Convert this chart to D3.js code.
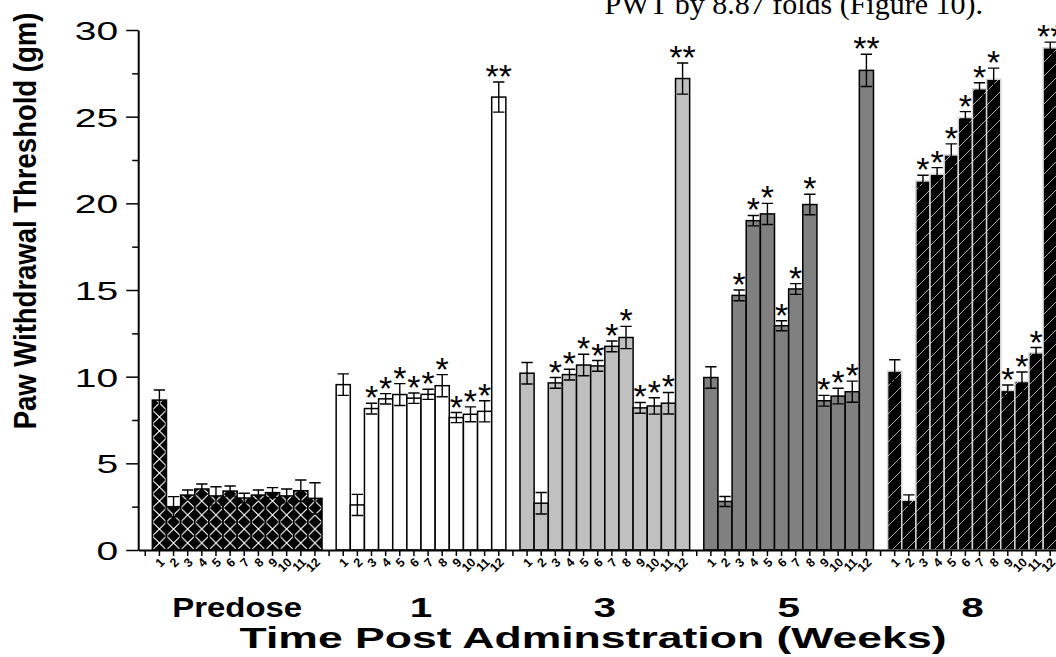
<!DOCTYPE html>
<html>
<head>
<meta charset="utf-8">
<script src="https://cdn.jsdelivr.net/npm/d3@7"></script>
<style>
  body { margin: 0; background: #fff; }
  text { font-family: "Liberation Sans", Arial, sans-serif; fill: #000; }
</style>
</head>
<body>
<svg id="chart" width="1056" height="657"></svg>
<script>
// groups along the x axis, 12 bars in each
var groups = ["Predose", "1", "3", "5", "8"];
var subjects = ["1", "2", "3", "4", "5", "6", "7", "8", "9", "10", "11", "12"];

var predoseMean = [8.65, 2.50, 3.17, 3.52, 3.12, 3.40, 3.00, 3.17, 3.31, 3.12, 3.42, 2.98];
var predoseSem  = [0.58, 0.58, 0.29, 0.29, 0.53, 0.29, 0.27, 0.29, 0.29, 0.40, 0.62, 0.90];
var week1Mean = [9.54, 2.60, 8.16, 8.72, 8.97, 8.76, 8.98, 9.48, 7.64, 7.83, 8.00, 26.13];
var week1Sem  = [0.62, 0.61, 0.31, 0.30, 0.63, 0.30, 0.29, 0.64, 0.29, 0.43, 0.61, 0.87];
var week3Mean = [10.20, 2.70, 9.64, 10.12, 10.67, 10.62, 11.75, 12.26, 8.20, 8.31, 8.47, 27.20];
var week3Sem  = [0.62, 0.62, 0.31, 0.31, 0.62, 0.31, 0.31, 0.64, 0.31, 0.47, 0.62, 0.90];
var week5Mean = [9.95, 2.80, 14.69, 19.00, 19.39, 12.94, 15.06, 19.93, 8.61, 8.88, 9.13, 27.67];
var week5Sem  = [0.62, 0.29, 0.31, 0.30, 0.61, 0.29, 0.31, 0.59, 0.31, 0.45, 0.61, 0.93];
var week8Mean = [10.32, 2.87, 21.29, 21.68, 22.79, 24.95, 26.61, 27.16, 9.21, 9.72, 11.37, 28.97];
var week8Sem  = [0.66, 0.31, 0.33, 0.38, 0.64, 0.34, 0.35, 0.64, 0.31, 0.55, 0.31, 0.33];

var noMarks   = ["", "", "", "", "", "", "", "", "", "", "", ""];
var weekMarks = ["", "", "*", "*", "*", "*", "*", "*", "*", "*", "*", "**"];

var yMajorTicks = [0, 5, 10, 15, 20, 25, 30];
var yMinorTicks = [2.5, 7.5, 12.5, 17.5, 22.5, 27.5];

var means = [predoseMean, week1Mean, week3Mean, week5Mean, week8Mean];
var sems = [predoseSem, week1Sem, week3Sem, week5Sem, week8Sem];
var marks = [noMarks, weekMarks, weekMarks, weekMarks, weekMarks];

var svg = d3.select("#chart");

// one empty slot before every group
var perGroup = subjects.length + 1;
var slots = d3.range(groups.length * perGroup);

var x = d3.scaleBand()
  .domain(slots)
  .range([138.2, 138.2 + slots.length * 14.14]);

var y = d3.scaleLinear()
  .domain([0, 30])
  .range([550, 30]);

var bw = x.bandwidth();

var rows = [];
groups.forEach(function(g, gi) {
  subjects.forEach(function(s, si) {
    rows.push({
      gi: gi,
      subject: s,
      slot: gi * perGroup + 1 + si,
      mean: means[gi][si],
      sem: sems[gi][si],
      mark: marks[gi][si]
    });
  });
});

// hatch patterns
var defs = svg.append('defs');

var cross = defs.append('pattern')
  .attr('id', 'crossHatch')
  .attr('patternUnits', 'userSpaceOnUse')
  .attr('x', x.range()[0])
  .attr('y', y(0))
  .attr('width', bw)
  .attr('height', 14);
cross.append('rect').attr('width', bw).attr('height', 14).attr('fill', '#000');
cross.append('path')
  .attr('d', 'M0,0L' + bw + ',14M' + bw + ',0L0,14')
  .attr('stroke', '#fff')
  .attr('stroke-width', 1.1)
  .attr('fill', 'none');

var diag = defs.append('pattern')
  .attr('id', 'diagHatch')
  .attr('patternUnits', 'userSpaceOnUse')
  .attr('width', 14)
  .attr('height', 14);
diag.append('rect').attr('width', 14).attr('height', 14).attr('fill', '#000');
diag.append('path')
  .attr('d', 'M0,14L14,0M-3,3L3,-3M11,17L17,11')
  .attr('stroke', '#d8d8d8')
  .attr('stroke-width', 0.8)
  .attr('fill', 'none');

var groupFill = ['url(#crossHatch)', '#ffffff', '#c0c0c0', '#808080', 'url(#diagHatch)'];
var groupStroke = ['#000', '#000', '#000', '#000', '#d4d4d4'];

// bars
svg.append('g')
  .selectAll('rect')
  .data(rows)
  .join('rect')
  .attr('x', function(d) { return x(d.slot); })
  .attr('y', function(d) { return y(d.mean); })
  .attr('width', bw)
  .attr('height', function(d) { return y(0) - y(d.mean); })
  .attr('fill', function(d) { return groupFill[d.gi]; })
  .attr('stroke', function(d) { return groupStroke[d.gi]; })
  .attr('stroke-width', 1.5);

// error bars
var capW = bw * 0.4;
svg.append('g')
  .attr('stroke', '#000')
  .attr('stroke-width', 1.4)
  .attr('fill', 'none')
  .selectAll('path')
  .data(rows)
  .join('path')
  .attr('d', function(d) {
    var cx = x(d.slot) + bw / 2;
    var hi = y(d.mean + d.sem), lo = y(d.mean - d.sem);
    return 'M' + cx + ',' + lo + 'V' + hi +
      'M' + (cx - capW) + ',' + hi + 'H' + (cx + capW) +
      'M' + (cx - capW) + ',' + lo + 'H' + (cx + capW);
  });

// significance stars
svg.append('g')
  .selectAll('text')
  .data(rows.filter(function(d) { return d.mark; }))
  .join('text')
  .attr('x', function(d) { return x(d.slot) + bw / 2; })
  .attr('y', function(d) { return y(d.mean + d.sem) + 6; })
  .attr('text-anchor', 'middle')
  .style('font-size', '34px')
  .text(function(d) { return d.mark; });

// y axis, minor then major ticks
svg.append('g')
  .attr('transform', 'translate(' + x.range()[0] + ',0)')
  .call(d3.axisLeft(y).tickValues(yMinorTicks).tickSize(6).tickFormat(''))
  .call(function(g) { g.select('.domain').remove(); })
  .selectAll('line').attr('stroke-width', 1.5);

var yAxis = svg.append('g')
  .attr('transform', 'translate(' + x.range()[0] + ',0)')
  .call(d3.axisLeft(y).tickValues(yMajorTicks).tickSize(12).tickSizeOuter(0));
yAxis.select('.domain').attr('stroke-width', 2);
yAxis.selectAll('line').attr('stroke-width', 1.5);
yAxis.selectAll('text')
  .attr('x', 0)
  .attr('dy', '0.36em')
  .attr('transform', 'translate(-20,0) scale(1.5,1)')
  .style('font-size', '26px')
  .style('font-family', '"Liberation Sans", Arial, sans-serif');

// x axis, a tick under every slot
var xAxis = svg.append('g')
  .attr('transform', 'translate(0,' + y(0) + ')')
  .call(d3.axisBottom(x).tickSize(6).tickSizeOuter(0).tickFormat(''));
xAxis.select('.domain').attr('stroke-width', 2);
xAxis.selectAll('line').attr('stroke-width', 1.5);

svg.append('g')
  .selectAll('text')
  .data(rows)
  .join('text')
  .attr('transform', function(d) {
    return 'translate(' + (x(d.slot) + bw / 2 + 6) + ',563) rotate(-45)';
  })
  .attr('text-anchor', 'end')
  .style('font-size', '12.5px')
  .style('font-weight', 'bold')
  .text(function(d) { return d.subject; });

// group labels
svg.append('g')
  .selectAll('text')
  .data(groups)
  .join('text')
  .attr('transform', function(g, gi) {
    var cx = x(gi * perGroup + 1) + bw * subjects.length / 2;
    return 'translate(' + cx + ',617) scale(' + (g === 'Predose' ? 1.22 : 1.5) + ',1)';
  })
  .attr('text-anchor', 'middle')
  .style('font-size', '27px')
  .style('font-weight', 'bold')
  .text(function(g) { return g; });

// axis titles
svg.append('text')
  .attr('x', 593)
  .attr('y', 648)
  .attr('text-anchor', 'middle')
  .attr('textLength', 707)
  .attr('lengthAdjust', 'spacingAndGlyphs')
  .style('font-size', '30px')
  .style('font-weight', 'bold')
  .text('Time Post Adminstration (Weeks)');

svg.append('text')
  .attr('transform', 'translate(36,221) rotate(-90) scale(1,1.16)')
  .attr('text-anchor', 'middle')
  .style('font-size', '27.5px')
  .style('font-weight', 'bold')
  .text('Paw Withdrawal Threshold (gm)');

// leftover body text from the page the figure was cut from
svg.append('text')
  .attr('x', 983)
  .attr('y', 14)
  .attr('text-anchor', 'end')
  .style('font-family', '"Liberation Serif", "Times New Roman", serif')
  .style('font-size', '30px')
  .text('PWT by 8.87 folds (Figure 10).');
</script>
</body>
</html>
